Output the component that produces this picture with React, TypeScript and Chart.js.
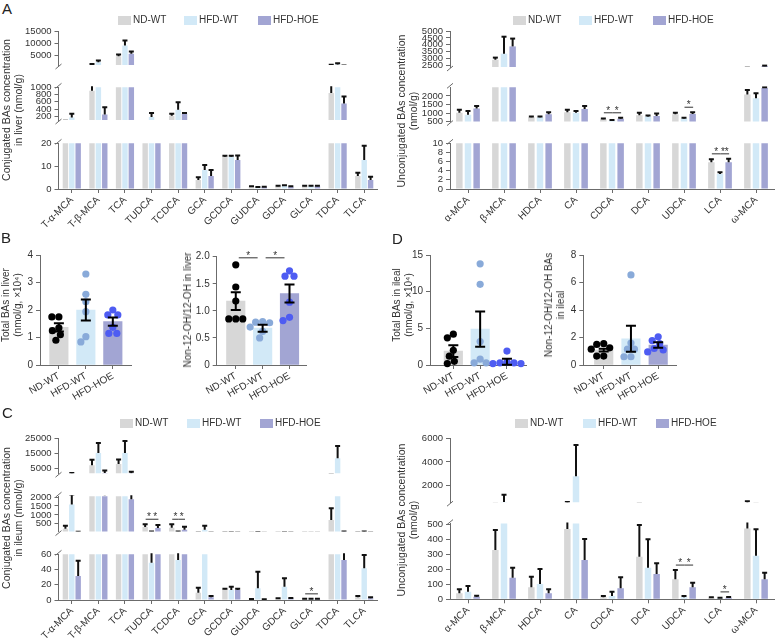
import React, { useEffect, useRef } from "react";
import { Chart, registerables } from "chart.js";

Chart.register(...registerables);

const FONT = "'Liberation Sans', Arial, Helvetica, sans-serif";
const TEXT = "#333333";
const AXIS = "#6b6b6b";
const GROUPS = ["ND-WT", "HFD-WT", "HFD-HOE"];
const BAR_COLORS = ["#d7d7d7", "#d2e9f7", "#a2a5d3"];
const DOT_COLORS = ["#000000", "#89aad9", "#4e5cf2"];

// ===== A: liver, conjugated BAs (nmol/g): mean and mean+SEM =====
const liverConjCats = ["T-α-MCA", "T-β-MCA", "TCA", "TUDCA", "TCDCA", "GCA", "GCDCA", "GUDCA", "GDCA", "GLCA", "TDCA", "TLCA"];
const liverConjND = [60, 907, 4620, 50, 220, 3.9, 14.1, 1.0, 1.2, 1.2, 840, 5.7];
const liverConjNDUp = [80, 1450, 5340, 70, 275, 5.1, 14.6, 1.2, 1.4, 1.4, 1100, 7.1];
const liverConjHFD = [170, 2100, 9020, 184, 381, 8.3, 14.1, 0.7, 1.3, 1.2, 1250, 12.7];
const liverConjHFDUp = [275, 2900, 11130, 296, 591, 10.5, 14.6, 0.9, 1.6, 1.4, 1700, 18.9];
const liverConjHOE = [50, 254, 5660, 45, 269, 5.7, 12.7, 0.85, 1.0, 1.2, 557, 3.9];
const liverConjHOEUp = [70, 452, 6600, 65, 296, 8.3, 14.7, 1.0, 1.2, 1.4, 747, 5.4];

// ===== A: liver, unconjugated BAs =====
const liverUnconjCats = ["α-MCA", "β-MCA", "HDCA", "CA", "CDCA", "DCA", "UDCA", "LCA", "ω-MCA"];
const liverUnconjND = [1016, 2926, 749, 1047, 633, 869, 927, 5.84, 2082];
const liverUnconjNDUp = [1193, 3078, 793, 1193, 678, 1016, 1016, 6.5, 2349];
const liverUnconjHFD = [900, 3361, 749, 1016, 558, 793, 678, 3.28, 1860];
const liverUnconjHFDUp = [1122, 4588, 793, 1122, 589, 855, 722, 3.65, 2158];
const liverUnconjHOE = [1269, 3887, 927, 1238, 660, 824, 944, 5.84, 2457];
const liverUnconjHOEUp = [1416, 4452, 1047, 1416, 722, 971, 1047, 6.6, 2500];
const liverUnconjSig = [
  { cat: 4, a: 0, b: 1, label: "*" },
  { cat: 4, a: 1, b: 2, label: "*" },
  { cat: 6, a: 1, b: 2, label: "*" },
  { cat: 7, a: 0, b: 1, label: "*" },
  { cat: 7, a: 1, b: 2, label: "**" },
];

// ===== B: liver totals =====
const liverTotalMean = [1.37, 2.0, 1.58];
const liverTotalSem = [0.15, 0.38, 0.15];
const liverTotalND = [1.75, 1.75, 1.35, 1.25, 1.1, 0.9];
const liverTotalHFD = [3.31, 2.57, 2.3, 1.94, 1.03, 0.84];
const liverTotalHOE = [2.0, 1.82, 1.82, 1.37, 1.15, 1.15];

const liverRatioMean = [1.18, 0.68, 1.32];
const liverRatioSem = [0.165, 0.065, 0.165];
const liverRatioND = [1.85, 1.44, 1.18, 0.85, 0.85, 0.85];
const liverRatioHFD = [0.8, 0.79, 0.78, 0.7, 0.62, 0.5];
const liverRatioHOE = [1.74, 1.64, 1.64, 1.16, 0.88, 0.82];
const liverRatioSig = [
  { a: 0, b: 1, label: "*" },
  { a: 1, b: 2, label: "*" },
];

// ===== D: ileal totals =====
const ilealTotalMean = [1.9, 4.9, 0.45];
const ilealTotalSem = [0.8, 2.4, 0.4];
const ilealTotalND = [4.2, 3.7, 2.0, 1.2, 0.5, 0.2];
const ilealTotalHFD = [13.8, 11.0, 3.2, 0.8, 0.3, 0.3];
const ilealTotalHOE = [1.9, 0.4, 0.3, 0.3, 0.2, 0.2];

const ilealRatioMean = [1.09, 1.91, 1.45];
const ilealRatioSem = [0.1, 0.95, 0.2];
const ilealRatioND = [1.55, 1.5, 1.25, 1.15, 0.65, 0.65];
const ilealRatioHFD = [6.55, 1.6, 1.15, 1.15, 0.6, 0.6];
const ilealRatioHOE = [2.05, 1.78, 1.55, 1.2, 1.1, 0.95];

// ===== C: ileum, conjugated BAs =====
const ileumConjCats = liverConjCats;
const ileumConjND = [220, 7230, 8040, 312, 282, 9.6, 14, 0.9, 1.8, 1.2, 718, 3.5];
const ileumConjNDUp = [390, 10935, 11090, 474, 474, 16.2, 14.9, 1.3, 2.2, 1.5, 1372, 5.2];
const ileumConjHFD = [1590, 15350, 15350, 49, 52.5, 169, 13.1, 15.3, 17.5, 1.5, 11800, 41.6];
const ileumConjHFDUp = [2150, 21950, 23270, 70, 70, 387, 17.5, 37.2, 28.5, 1.8, 19900, 59];
const ileumConjHOE = [31.5, 2100, 1880, 256, 169, 3.5, 13.1, 0.5, 2.2, 1.2, 52.5, 2.2];
const ileumConjHOEUp = [51.6, 3800, 2950, 430, 326, 5.2, 14.9, 1.0, 2.6, 1.5, 65, 3.5];
const ileumConjSig = [
  { cat: 3, a: 0, b: 1, label: "*" },
  { cat: 3, a: 1, b: 2, label: "*" },
  { cat: 4, a: 0, b: 1, label: "*" },
  { cat: 4, a: 1, b: 2, label: "*" },
  { cat: 9, a: 0, b: 2, label: "*" },
];

// ===== C: ileum, unconjugated BAs =====
const ileumUnconjCats = liverUnconjCats;
const ileumUnconjND = [40, 329, 80, 469, 13, 284, 133, 11, 473];
const ileumUnconjNDUp = [67, 462, 151, 625, 22, 495, 195, 14, 680];
const ileumUnconjHFD = [51, 620, 102, 2800, 22, 211, 13, 8, 291];
const ileumUnconjHFDUp = [89, 1220, 202, 5440, 51, 400, 22, 10, 467];
const ileumUnconjHOE = [17, 144, 40, 262, 73, 169, 80, 11, 133];
const ileumUnconjHOEUp = [24, 211, 67, 402, 147, 240, 111, 16, 177];
const ileumUnconjSig = [
  { cat: 6, a: 0, b: 1, label: "*" },
  { cat: 6, a: 1, b: 2, label: "*" },
  { cat: 7, a: 1, b: 2, label: "*" },
];

type Cfg = { left: number; top: number; width: number; height: number; make: () => any };

function swarm(pys: number[], minDist: number): number[] {
  const placed: { x: number; y: number }[] = [];
  const xs: number[] = [];
  pys.forEach((py) => {
    let best = 0;
    for (let k = 0; k < 400; k++) {
      const off = (k % 2 === 0 ? 1 : -1) * Math.ceil(k / 2) * 0.5;
      if (placed.every((p) => Math.hypot(p.x - off, p.y - py) >= minDist)) {
        best = off;
        break;
      }
    }
    xs.push(best);
    placed.push({ x: best, y: py });
  });
  return xs;
}

function drawStarLine(ctx: any, x1: number, x2: number, ly: number, label: string) {
  ctx.save();
  ctx.strokeStyle = "#333";
  ctx.lineWidth = 1;
  ctx.beginPath();
  ctx.moveTo(x1, ly);
  ctx.lineTo(x2, ly);
  ctx.stroke();
  ctx.fillStyle = "#333";
  ctx.font = `10px ${FONT}`;
  ctx.textAlign = "center";
  ctx.textBaseline = "alphabetic";
  ctx.fillText(label, (x1 + x2) / 2, ly + 1);
  ctx.restore();
}

interface SegSpec {
  L: number; R: number; T: number; B: number;
  labels: string[];
  means: number[][];
  uppers: number[][];
  min: number; max: number; ticks: number[];
  bp: number;
  showX?: boolean; breakTop?: boolean; breakBottom?: boolean;
  sigs?: { cat: number; a: number; b: number; label: string }[];
}

function segPlugin(s: SegSpec) {
  return {
    id: "segDeco",
    afterDatasetsDraw(chart: any) {
      const { ctx, chartArea: a } = chart;
      const y = chart.scales.y;
      ctx.save();
      ctx.beginPath();
      ctx.rect(a.left, a.top - 1, a.right - a.left, a.bottom - a.top + 1);
      ctx.clip();
      ctx.strokeStyle = "#111";
      ctx.lineWidth = 2;
      for (let d = 0; d < s.means.length; d++) {
        const meta = chart.getDatasetMeta(d);
        meta.data.forEach((el: any, j: number) => {
          const m = s.means[d][j];
          const u = s.uppers[d][j];
          const p0 = y.getPixelForValue(m);
          const p1 = y.getPixelForValue(u);
          ctx.beginPath();
          ctx.moveTo(el.x, p0);
          ctx.lineTo(el.x, p1);
          ctx.stroke();
          ctx.beginPath();
          ctx.moveTo(el.x - 2.5, p1);
          ctx.lineTo(el.x + 2.5, p1);
          ctx.stroke();
        });
      }
      ctx.restore();

      if (s.sigs) {
        const levels: Record<number, number> = {};
        const items: any[] = [];
        s.sigs.forEach((g) => {
          const u = Math.max(s.uppers[g.a][g.cat], s.uppers[g.b][g.cat]);
          if (u < s.min || u > s.max) return;
          const py = y.getPixelForValue(u) - 5;
          levels[g.cat] = Math.min(levels[g.cat] ?? Infinity, py);
          items.push(g);
        });
        items.forEach((g) => {
          const x1 = chart.getDatasetMeta(g.a).data[g.cat].x;
          const x2 = chart.getDatasetMeta(g.b).data[g.cat].x;
          drawStarLine(ctx, x1 + 0.5, x2 + 0.5, levels[g.cat], g.label);
        });
      }

      ctx.save();
      ctx.strokeStyle = AXIS;
      ctx.lineWidth = 1;
      const bx = a.left;
      if (s.breakBottom) {
        ctx.beginPath();
        ctx.moveTo(bx - 3, a.bottom + 4);
        ctx.lineTo(bx + 3, a.bottom - 1);
        ctx.stroke();
      }
      if (s.breakTop) {
        ctx.beginPath();
        ctx.moveTo(bx - 3, a.top + 1);
        ctx.lineTo(bx + 3, a.top - 4);
        ctx.stroke();
      }
      ctx.restore();
    },
  };
}

function seg(s: SegSpec): Cfg {
  const YW = 50, XH = 56, PAD = 10, PADR = 3;
  const left = Math.floor(s.L - YW);
  const top = Math.floor(s.T - PAD);
  const width = Math.ceil(s.R + PADR - left);
  const height = Math.ceil(s.B - top + (s.showX ? XH : PAD));
  const padT = s.T - top;
  const padR = width - (s.R - left);
  const yw = s.L - left;
  const below = height - (s.B - top);
  const make = () => ({
    type: "bar",
    data: {
      labels: s.labels,
      datasets: s.means.map((m, i) => ({
        label: GROUPS[i],
        data: m,
        backgroundColor: BAR_COLORS[i],
        borderWidth: 0,
        categoryPercentage: 0.72,
        barPercentage: s.bp,
        clip: 0,
      })),
    },
    options: {
      responsive: false,
      animation: false,
      devicePixelRatio: 1,
      layout: { padding: { top: padT, right: padR, left: 0, bottom: s.showX ? 0 : below } },
      plugins: { legend: { display: false }, tooltip: { enabled: false } },
      scales: {
        x: {
          display: !!s.showX,
          grid: { drawOnChartArea: false, offset: false, tickLength: 4, color: AXIS },
          border: { color: AXIS },
          ticks: { autoSkip: false, minRotation: 45, maxRotation: 45, padding: 1, color: TEXT, font: { family: FONT, size: 10 } },
          afterFit: (sc: any) => { sc.height = below; },
        },
        y: {
          min: s.min,
          max: s.max,
          grid: { drawOnChartArea: false, tickLength: 4, color: AXIS },
          border: { color: AXIS },
          ticks: { autoSkip: false, padding: 3, color: TEXT, font: { family: FONT, size: 9.5 }, callback: (v: any) => String(v) },
          afterBuildTicks: (sc: any) => { sc.ticks = s.ticks.map((v) => ({ value: v })); },
          afterFit: (sc: any) => { sc.width = yw; },
        },
      },
    },
    plugins: [segPlugin(s)],
  });
  return { left, top, width, height, make };
}

interface DotSpec {
  L: number; R: number; T: number; B: number;
  xmin: number; xmax: number; ymax: number; ticks: number[];
  fmt?: (v: number) => string;
  means: number[]; sems: number[]; dots: number[][];
  sigs?: { a: number; b: number; label: string }[];
}

function dotPlugin(s: DotSpec) {
  return {
    id: "dotDeco",
    afterDatasetsDraw(chart: any) {
      const { ctx } = chart;
      const x = chart.scales.x;
      const y = chart.scales.y;
      ctx.save();
      s.dots.forEach((vals, g) => {
        const cx = x.getPixelForValue(g);
        const pys = vals.map((v) => y.getPixelForValue(v));
        const offs = swarm(pys, 7);
        ctx.fillStyle = DOT_COLORS[g];
        pys.forEach((py, i) => {
          ctx.beginPath();
          ctx.arc(cx + offs[i], py, 3.6, 0, Math.PI * 2);
          ctx.fill();
        });
      });
      ctx.strokeStyle = "#000";
      ctx.lineWidth = 2;
      s.means.forEach((m, g) => {
        const cx = x.getPixelForValue(g);
        const pu = y.getPixelForValue(m + s.sems[g]);
        const pl = y.getPixelForValue(Math.max(0, m - s.sems[g]));
        ctx.beginPath();
        ctx.moveTo(cx, pu);
        ctx.lineTo(cx, pl);
        ctx.moveTo(cx - 5, pu);
        ctx.lineTo(cx + 5, pu);
        ctx.moveTo(cx - 5, pl);
        ctx.lineTo(cx + 5, pl);
        ctx.stroke();
      });
      ctx.restore();
      if (s.sigs) {
        const tops = s.means.map((m, g) => Math.max(m + s.sems[g], ...s.dots[g]));
        let level = Infinity;
        s.sigs.forEach((sg) => {
          level = Math.min(level, y.getPixelForValue(Math.max(tops[sg.a], tops[sg.b])) - 7);
        });
        s.sigs.forEach((sg) => {
          const x1 = x.getPixelForValue(sg.a) + 3;
          const x2 = x.getPixelForValue(sg.b) - 5;
          drawStarLine(ctx, x1, x2, level, sg.label);
        });
      }
    },
  };
}

function dotChart(s: DotSpec): Cfg {
  const YW = 36, PAD = 12, XH = 50, PADR = 6;
  const left = Math.floor(s.L - YW);
  const top = Math.floor(s.T - PAD);
  const width = Math.ceil(s.R + PADR - left);
  const height = Math.ceil(s.B - top + XH);
  const padT = s.T - top;
  const padR = width - (s.R - left);
  const yw = s.L - left;
  const below = height - (s.B - top);
  const make = () => ({
    type: "bar",
    data: {
      datasets: [
        {
          data: s.means.map((m, i) => ({ x: i, y: m })),
          backgroundColor: BAR_COLORS,
          borderWidth: 0,
          barThickness: 18.5,
          clip: 0,
        },
      ],
    },
    options: {
      responsive: false,
      animation: false,
      devicePixelRatio: 1,
      layout: { padding: { top: padT, right: padR, left: 0, bottom: 0 } },
      plugins: { legend: { display: false }, tooltip: { enabled: false } },
      scales: {
        x: {
          type: "linear",
          min: s.xmin,
          max: s.xmax,
          offset: false,
          grid: { drawOnChartArea: false, offset: false, tickLength: 4, color: AXIS },
          border: { color: AXIS },
          ticks: {
            autoSkip: false, minRotation: 30, maxRotation: 30, padding: 1, color: TEXT,
            font: { family: FONT, size: 10 },
            callback: (v: any) => GROUPS[v] ?? "",
          },
          afterBuildTicks: (sc: any) => { sc.ticks = [0, 1, 2].map((v) => ({ value: v })); },
          afterFit: (sc: any) => { sc.height = below; },
        },
        y: {
          min: 0,
          max: s.ymax,
          grid: { drawOnChartArea: false, tickLength: 4, color: AXIS },
          border: { color: AXIS },
          ticks: {
            autoSkip: false, padding: 3, color: TEXT, font: { family: FONT, size: 10 },
            callback: (v: any) => (s.fmt ? s.fmt(v) : String(v)),
          },
          afterBuildTicks: (sc: any) => { sc.ticks = s.ticks.map((v) => ({ value: v })); },
          afterFit: (sc: any) => { sc.width = yw; },
        },
      },
    },
    plugins: [dotPlugin(s)],
  });
  return { left, top, width, height, make };
}

const AL = { L: 58.5, R: 377.5 };
const AR = { L: 450, R: 774 };

const CHARTS: Cfg[] = [
  // A left
  seg({ ...AL, T: 31, B: 75.5, labels: liverConjCats, means: [liverConjND, liverConjHFD, liverConjHOE], uppers: [liverConjNDUp, liverConjHFDUp, liverConjHOEUp], min: 1000, max: 15000, ticks: [5000, 10000, 15000], bp: 0.85, breakBottom: true }),
  seg({ ...AL, T: 87.3, B: 130, labels: liverConjCats, means: [liverConjND, liverConjHFD, liverConjHOE], uppers: [liverConjNDUp, liverConjHFDUp, liverConjHOEUp], min: 100, max: 1000, ticks: [200, 400, 600, 800, 1000], bp: 0.85, breakTop: true, breakBottom: true }),
  seg({ ...AL, T: 143.3, B: 189, labels: liverConjCats, means: [liverConjND, liverConjHFD, liverConjHOE], uppers: [liverConjNDUp, liverConjHFDUp, liverConjHOEUp], min: 0, max: 20, ticks: [0, 10, 20], bp: 0.85, breakTop: true, showX: true }),
  // A right
  seg({ ...AR, T: 31, B: 77, labels: liverUnconjCats, means: [liverUnconjND, liverUnconjHFD, liverUnconjHOE], uppers: [liverUnconjNDUp, liverUnconjHFDUp, liverUnconjHOEUp], min: 2400, max: 5000, ticks: [2500, 3000, 3500, 4000, 4500, 5000], bp: 0.75, breakBottom: true, sigs: liverUnconjSig }),
  seg({ ...AR, T: 87.3, B: 132.3, labels: liverUnconjCats, means: [liverUnconjND, liverUnconjHFD, liverUnconjHOE], uppers: [liverUnconjNDUp, liverUnconjHFDUp, liverUnconjHOEUp], min: 500, max: 2500, ticks: [500, 1000, 1500, 2000], bp: 0.75, breakTop: true, breakBottom: true, sigs: liverUnconjSig }),
  seg({ ...AR, T: 143.3, B: 189, labels: liverUnconjCats, means: [liverUnconjND, liverUnconjHFD, liverUnconjHOE], uppers: [liverUnconjNDUp, liverUnconjHFDUp, liverUnconjHOEUp], min: 0, max: 10, ticks: [0, 2, 4, 6, 8, 10], bp: 0.75, breakTop: true, showX: true, sigs: liverUnconjSig }),
  // B
  dotChart({ L: 40, R: 131.7, T: 255, B: 365, xmin: -0.7, xmax: 2.7, ymax: 4, ticks: [0, 1, 2, 3, 4], means: liverTotalMean, sems: liverTotalSem, dots: [liverTotalND, liverTotalHFD, liverTotalHOE] }),
  dotChart({ L: 216.7, R: 306.7, T: 256.7, B: 365, xmin: -0.71, xmax: 2.64, ymax: 2, ticks: [0, 0.5, 1, 1.5, 2], fmt: (v) => (v === 0 ? "0" : v.toFixed(1)), means: liverRatioMean, sems: liverRatioSem, dots: [liverRatioND, liverRatioHFD, liverRatioHOE], sigs: liverRatioSig }),
  // D
  dotChart({ L: 430, R: 526, T: 255, B: 365, xmin: -0.87, xmax: 2.71, ymax: 15, ticks: [0, 5, 10, 15], means: ilealTotalMean, sems: ilealTotalSem, dots: [ilealTotalND, ilealTotalHFD, ilealTotalHOE] }),
  dotChart({ L: 583.3, R: 676.7, T: 255, B: 365, xmin: -0.75, xmax: 2.68, ymax: 8, ticks: [0, 2, 4, 6, 8], means: ilealRatioMean, sems: ilealRatioSem, dots: [ilealRatioND, ilealRatioHFD, ilealRatioHOE] }),
  // C left
  seg({ ...AL, T: 438.3, B: 483.6, labels: ileumConjCats, means: [ileumConjND, ileumConjHFD, ileumConjHOE], uppers: [ileumConjNDUp, ileumConjHFDUp, ileumConjHOEUp], min: 2000, max: 25000, ticks: [5000, 15000, 25000], bp: 0.85, breakBottom: true, sigs: ileumConjSig }),
  seg({ ...AL, T: 496.2, B: 541.8, labels: ileumConjCats, means: [ileumConjND, ileumConjHFD, ileumConjHOE], uppers: [ileumConjNDUp, ileumConjHFDUp, ileumConjHOEUp], min: 60, max: 2050, ticks: [500, 1000, 1500, 2000], bp: 0.85, breakTop: true, breakBottom: true, sigs: ileumConjSig }),
  seg({ ...AL, T: 554.3, B: 600, labels: ileumConjCats, means: [ileumConjND, ileumConjHFD, ileumConjHOE], uppers: [ileumConjNDUp, ileumConjHFDUp, ileumConjHOEUp], min: 0, max: 60, ticks: [0, 20, 40, 60], bp: 0.85, breakTop: true, showX: true, sigs: ileumConjSig }),
  // C right
  seg({ ...AR, T: 438.3, B: 512.6, labels: ileumUnconjCats, means: [ileumUnconjND, ileumUnconjHFD, ileumUnconjHOE], uppers: [ileumUnconjNDUp, ileumUnconjHFDUp, ileumUnconjHOEUp], min: 600, max: 6000, ticks: [2000, 4000, 6000], bp: 0.75, breakBottom: true, sigs: ileumUnconjSig }),
  seg({ ...AR, T: 523.6, B: 599.3, labels: ileumUnconjCats, means: [ileumUnconjND, ileumUnconjHFD, ileumUnconjHOE], uppers: [ileumUnconjNDUp, ileumUnconjHFDUp, ileumUnconjHOEUp], min: 0, max: 505, ticks: [0, 100, 200, 300, 400, 500], bp: 0.75, breakTop: true, showX: true, sigs: ileumUnconjSig }),
];

function ChartCanvas({ cfg }: { cfg: Cfg }) {
  const ref = useRef<HTMLCanvasElement | null>(null);
  useEffect(() => {
    const chart = new Chart(ref.current as HTMLCanvasElement, cfg.make());
    return () => chart.destroy();
  }, [cfg]);
  return (
    <canvas
      ref={ref}
      width={cfg.width}
      height={cfg.height}
      style={{ position: "absolute", left: cfg.left, top: cfg.top, width: cfg.width, height: cfg.height }}
    />
  );
}

function Legend({ xs, yc }: { xs: number[]; yc: number }) {
  return (
    <>
      {GROUPS.map((g, i) => (
        <React.Fragment key={g}>
          <div style={{ position: "absolute", left: xs[i], top: yc - 4.5, width: 13, height: 9, background: BAR_COLORS[i] }} />
          <div style={{ position: "absolute", left: xs[i] + 15, top: yc - 5, fontSize: 10, lineHeight: "10px", whiteSpace: "nowrap", color: TEXT }}>{g}</div>
        </React.Fragment>
      ))}
    </>
  );
}

function VTitle({ cx, cy, lines, size, lh }: { cx: number; cy: number; lines: string[]; size: number; lh: number }) {
  return (
    <div
      style={{
        position: "absolute", left: cx, top: cy, transform: "translate(-50%, -50%) rotate(-90deg)",
        fontSize: size, lineHeight: `${lh}px`, whiteSpace: "nowrap", textAlign: "center", color: TEXT,
      }}
    >
      {lines.map((l, i) => (
        <div key={i}>{l}</div>
      ))}
    </div>
  );
}

function Letter({ x, y, t }: { x: number; y: number; t: string }) {
  return <div style={{ position: "absolute", left: x, top: y, fontSize: 15, lineHeight: "15px", color: "#222" }}>{t}</div>;
}

export default function App() {
  return (
    <div style={{ position: "absolute", left: 0, top: 0, width: 777, height: 641, overflow: "hidden", background: "#fff", fontFamily: FONT }}>
      {CHARTS.map((c, i) => (
        <ChartCanvas key={i} cfg={c} />
      ))}
      <Letter x={2} y={1} t="A" />
      <Letter x={1} y={230} t="B" />
      <Letter x={392} y={231} t="D" />
      <Letter x={2} y={405} t="C" />
      <Legend xs={[118, 184, 258]} yc={20} />
      <Legend xs={[513, 579, 653]} yc={20} />
      <Legend xs={[120, 187, 260]} yc={423} />
      <Legend xs={[515, 583, 656]} yc={423} />
      <VTitle cx={11.5} cy={110} lines={["Conjugated BAs concentration", "in liver (nmol/g)"]} size={10.5} lh={11.5} />
      <VTitle cx={407} cy={111} lines={["Unconjugated BAs concentration", "(nmol/g)"]} size={10.5} lh={11.5} />
      <VTitle cx={12} cy={305} lines={["Total BAs in liver", "(nmol/g, ×10⁴)"]} size={10} lh={12} />
      <VTitle cx={188} cy={310} lines={["Non-12-OH/12-OH in liver"]} size={10} lh={12} />
      <VTitle cx={403} cy={305} lines={["Total BAs in ileal", "(nmol/g, ×10⁴)"]} size={10} lh={12} />
      <VTitle cx={555} cy={305} lines={["Non-12-OH/12-OH BAs", "in ileal"]} size={10} lh={12} />
      <VTitle cx={12} cy={518} lines={["Conjugated BAs concentration", "in ileum (nmol/g)"]} size={10.5} lh={11.5} />
      <VTitle cx={407} cy={520} lines={["Unconjugated BAs concentration", "(nmol/g)"]} size={10.5} lh={11.5} />
    </div>
  );
}
